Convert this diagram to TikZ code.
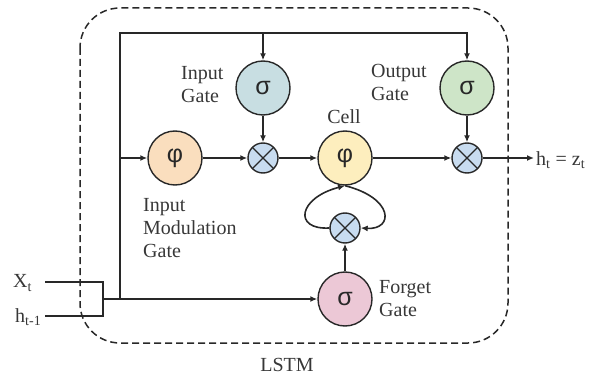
\documentclass[tikz,border=0pt]{standalone}
\usepackage{fontspec}
\setmainfont{Liberation Serif}
\newfontfamily\grk{Liberation Sans}
\usetikzlibrary{arrows.meta}
\definecolor{lc}{RGB}{40,40,40}
\definecolor{tc}{RGB}{55,55,55}
\definecolor{igc}{RGB}{200,222,226}
\definecolor{ogc}{RGB}{206,229,200}
\definecolor{imc}{RGB}{250,222,190}
\definecolor{cec}{RGB}{253,238,190}
\definecolor{fgc}{RGB}{236,200,214}
\definecolor{mlc}{RGB}{200,220,240}
\tikzset{
  gatenode/.style={circle, draw=lc, line width=1.4pt, minimum size=54pt, inner sep=0pt, font=\grk\fontsize{25}{25}\selectfont, text=lc},
  multnode/.style={circle, draw=lc, line width=1.4pt, fill=mlc, minimum size=30pt, inner sep=0pt,
    path picture={\draw[lc, line width=1.2pt] (path picture bounding box.north west) -- (path picture bounding box.south east)
      (path picture bounding box.north east) -- (path picture bounding box.south west);}},
  wire/.style={draw=lc, line width=1.6pt},
  arr/.style={wire, -{Latex[length=7pt,width=6pt]}},
  lbl/.style={font=\fontsize{20}{23}\selectfont, text=tc, align=left, inner sep=0pt}
}
\begin{document}
\begin{tikzpicture}[x=1pt,y=-1pt]
\useasboundingbox (0,0) rectangle (589,377);
\draw[lc, line width=1.5pt, dash pattern=on 7pt off 4pt, rounded corners=40pt] (80,8) rectangle (508,343);
% nodes
\node[gatenode, fill=igc] (ig) at (263,88) {σ};
\node[gatenode, fill=ogc] (og) at (467,88) {σ};
\node[gatenode, fill=imc] (im) at (175,158) {φ};
\node[gatenode, fill=cec] (cell) at (345,158) {φ};
\node[gatenode, fill=fgc] (fg) at (345,299) {σ};
\node[multnode] (m1) at (263,158) {};
\node[multnode] (m2) at (467,158) {};
\node[multnode] (m3) at (345,228) {};
% coordinates
\coordinate (tl) at (120,33);
\coordinate (tr) at (467,33);
\coordinate (jn) at (120,299);
\coordinate (jb) at (103,299);
\coordinate (xs) at (45,282);
\coordinate (xe) at (103,282);
\coordinate (hs) at (45,316);
\coordinate (he) at (103,316);
\coordinate (out) at (534,158);
% wires
\draw[wire] (xs) -- (xe) -- (he) -- (hs);
\draw[arr] (jb) -- (fg.west);
\draw[arr] (jn) -- (tl) -- (tr) -- (og.north);
\draw[arr] (ig.north |- tl) -- (ig.north);
\draw[arr] (tl |- im) -- (im.west);
\draw[arr] (im) -- (m1);
\draw[arr] (ig) -- (m1);
\draw[arr] (m1) -- (cell);
\draw[arr] (cell) -- (m2);
\draw[arr] (og) -- (m2);
\draw[arr] (m2) -- (out);
\draw[arr] (fg) -- (m3);
\draw[arr] (m3.west) .. controls (293,230) and (298,198) .. (cell.south);
\draw[arr] (cell.south) .. controls (394,198) and (394,230) .. (m3.east);
% labels
\node[lbl, anchor=west] at (181,85) {Input\\Gate};
\node[lbl, anchor=west] at (371,82) {Output\\Gate};
\node[lbl] at (344,117) {Cell};
\node[lbl, anchor=west] at (143,228) {Input\\Modulation\\Gate};
\node[lbl, anchor=west] at (379,299) {Forget\\Gate};
\node[lbl] at (287,365) {LSTM};
\node[lbl, anchor=west] at (536,160) {h\textsubscript{t} = z\textsubscript{t}};
\node[lbl, anchor=west] at (13,283) {X\textsubscript{t}};
\node[lbl, anchor=west] at (15,317) {h\textsubscript{t-1}};
\end{tikzpicture}
\end{document}
